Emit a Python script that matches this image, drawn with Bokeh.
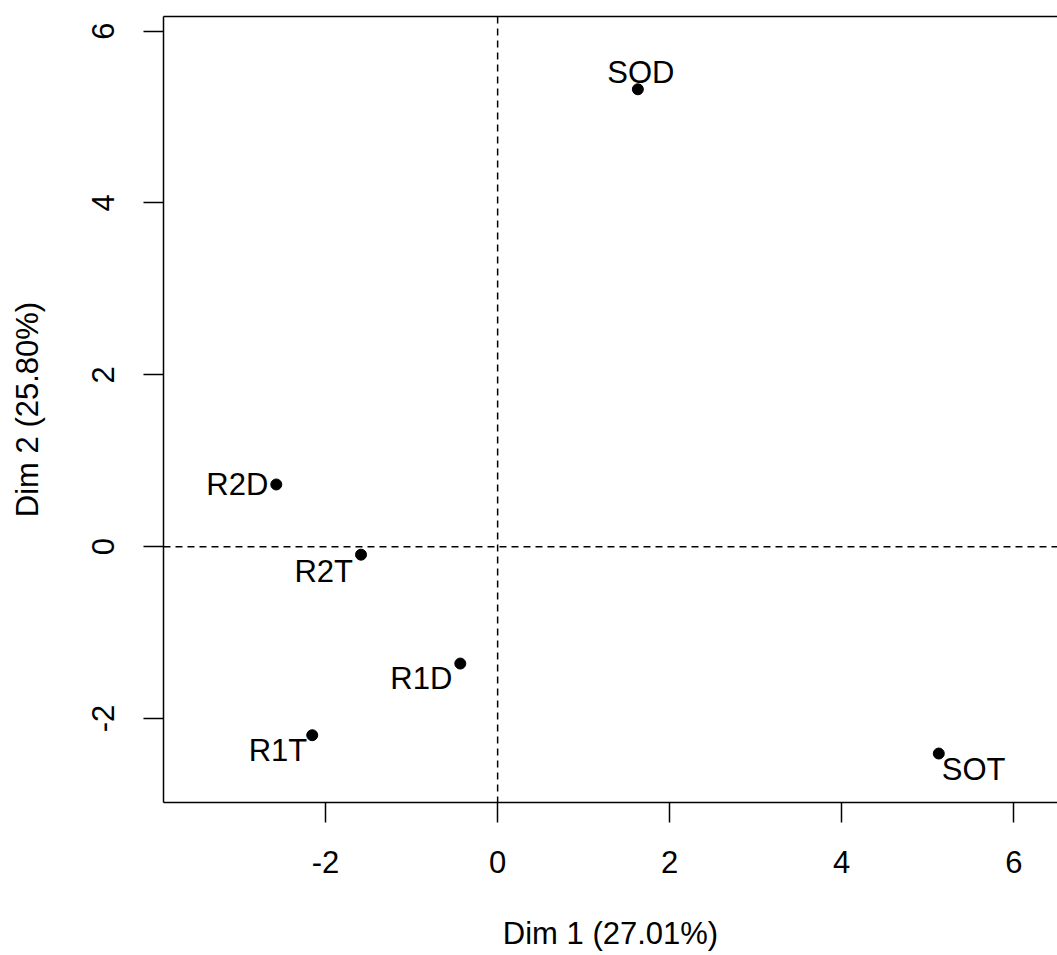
from bokeh.plotting import figure
from bokeh.models import Span, Range1d, FixedTicker, ColumnDataSource, LinearAxis
from bokeh.embed import file_html
from bokeh.resources import INLINE
from bokeh.core.properties import value

# ---- data ----
labels = ["SOD", "R2D", "R2T", "R1D", "R1T", "SOT"]
dim1 = [1.630, -2.573, -1.588, -0.434, -2.155, 5.128]
dim2 = [5.323, 0.724, -0.093, -1.360, -2.194, -2.407]
x_ticks = [-2, 0, 2, 4, 6]
y_ticks = [-2, 0, 2, 4, 6]
x_title = "Dim 1 (27.01%)"
y_title = "Dim 2 (25.80%)"

# ---- label placement styles (pixel offsets) ----
lab_dx = [3, -8, -8, -8, -5, 3]
lab_dy = [-17, 0, 17, 15, 15, 16]
lab_align = ["center", "right", "right", "right", "right", "left"]

FONT = "Liberation Sans"
FS = "31px"

p = figure(width=1057, height=955, output_backend="svg", toolbar_location=None,
           x_range=Range1d(-3.884, 6.508), y_range=Range1d(-2.977, 6.170),
           min_border_left=163, min_border_right=0, min_border_top=16,
           min_border_bottom=153)
p.grid.visible = False
p.background_fill_color = "white"
p.border_fill_color = "white"
p.outline_line_color = None

for ax, ticks in ((p.xaxis, x_ticks), (p.yaxis, y_ticks)):
    ax.ticker = FixedTicker(ticks=ticks)
    ax.major_label_overrides = {t: ("%d" % t).replace("\u2212", "-") for t in ticks}
    ax.major_tick_out = 20
    ax.major_tick_in = 0
    ax.minor_tick_line_color = None
    ax.axis_line_color = "black"
    ax.axis_line_width = 1.5
    ax.major_tick_line_color = "black"
    ax.major_tick_line_width = 1.5
    ax.major_label_text_font = FONT
    ax.major_label_text_font_size = FS
    ax.major_label_text_color = "black"
    ax.axis_label_text_font = FONT
    ax.axis_label_text_font_size = FS
    ax.axis_label_text_font_style = "normal"
    ax.axis_label_text_color = "black"

p.xaxis.axis_label = x_title
p.yaxis.axis_label = y_title
p.xaxis.major_label_standoff = 28
p.xaxis.axis_label_standoff = 40
p.yaxis.major_label_orientation = "vertical"
p.yaxis.major_label_standoff = 29
p.yaxis.axis_label_standoff = 45

# top edge of the box (an axis line with no ticks or labels)
top = LinearAxis(ticker=FixedTicker(ticks=[]), axis_line_color="black",
                 axis_line_width=1.5, major_tick_line_color=None,
                 minor_tick_line_color=None, major_label_text_font_size="0px",
                 major_tick_out=0, major_label_standoff=0)
p.add_layout(top, "above")

p.add_layout(Span(location=0, dimension="height", line_color="black",
                  line_width=1.5, line_dash="7 5"))
p.add_layout(Span(location=0, dimension="width", line_color="black",
                  line_width=1.5, line_dash="7 5"))

src = ColumnDataSource(dict(x=dim1, y=dim2, label=labels, dx=lab_dx, dy=lab_dy,
                            align=lab_align))
p.scatter("x", "y", source=src, size=11, color="black")
p.text("x", "y", text="label", source=src, x_offset="dx", y_offset="dy",
       text_align="align", text_baseline="middle", text_font=value(FONT),
       text_font_size=FS, text_color="black")

open("out.html", "w").write(file_html(p, INLINE))
